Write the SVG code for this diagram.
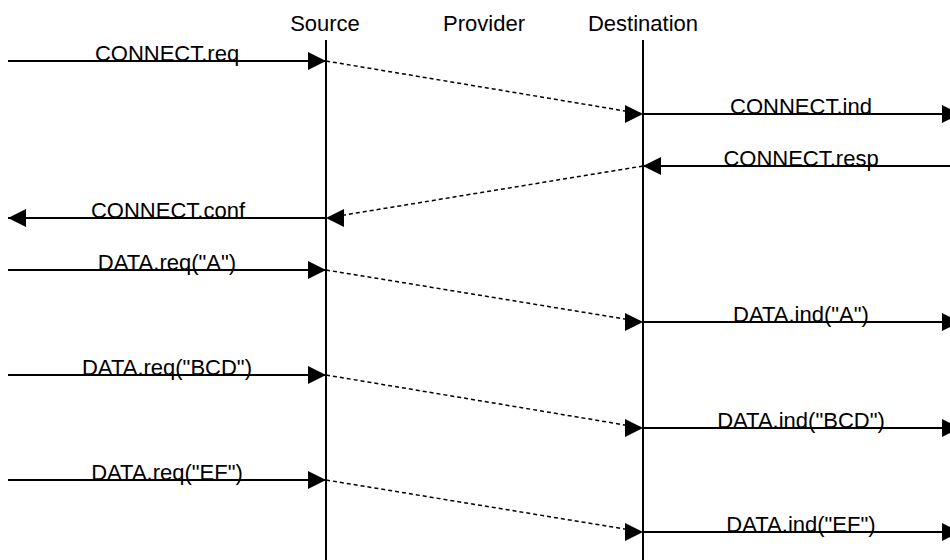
<svg xmlns="http://www.w3.org/2000/svg" width="950" height="560" viewBox="0 0 950 560">
<style>
text{font-family:"Liberation Sans",Arial,sans-serif;font-size:22px;fill:#000;text-anchor:middle}
.life{stroke:#000;stroke-width:2;fill:none}
.msg{stroke:#000;stroke-width:2;fill:none}
.dash{stroke:#000;stroke-width:1.5;fill:none;stroke-dasharray:4 3}
</style>
<defs>
<marker id="aAuto" viewBox="0 0 18 18" refX="18" refY="9" markerWidth="18" markerHeight="18" markerUnits="userSpaceOnUse" orient="auto"><path d="M0,0 L18,9 L0,18 Z" fill="#000"/></marker>
<marker id="aR" viewBox="0 0 18 18" refX="18" refY="9" markerWidth="18" markerHeight="18" markerUnits="userSpaceOnUse" orient="0"><path d="M0,0 L18,9 L0,18 Z" fill="#000"/></marker>
<marker id="aL" viewBox="0 0 18 18" refX="0" refY="9" markerWidth="18" markerHeight="18" markerUnits="userSpaceOnUse" orient="0"><path d="M18,0 L0,9 L18,18 Z" fill="#000"/></marker>
</defs>
<rect width="950" height="560" fill="#fff"/>
<g id="source">
<text x="325" y="31">Source</text>
<line class="life" x1="326" y1="40" x2="326" y2="560"/>
</g>
<g id="provider">
<text x="484" y="31">Provider</text>
</g>
<g id="destination">
<text x="643" y="31">Destination</text>
<line class="life" x1="643" y1="40" x2="643" y2="560"/>
</g>
<g id="connectors">
<line class="msg" x1="8" y1="61" x2="326" y2="61" marker-end="url(#aAuto)"/>
<text x="167" y="61">CONNECT.req</text>
<line class="dash" x1="326" y1="61" x2="643" y2="114" marker-end="url(#aR)"/>
<line class="msg" x1="643" y1="114" x2="960" y2="114" marker-end="url(#aAuto)"/>
<text x="801" y="114">CONNECT.ind</text>
<line class="msg" x1="960" y1="166" x2="643" y2="166" marker-end="url(#aAuto)"/>
<text x="801" y="166">CONNECT.resp</text>
<line class="dash" x1="643" y1="166" x2="326" y2="218" marker-end="url(#aL)"/>
<line class="msg" x1="326" y1="218" x2="8" y2="218" marker-end="url(#aAuto)"/>
<text x="168" y="218">CONNECT.conf</text>
<line class="msg" x1="8" y1="270" x2="326" y2="270" marker-end="url(#aAuto)"/>
<text x="167" y="270">DATA.req("A")</text>
<line class="dash" x1="326" y1="270" x2="643" y2="322" marker-end="url(#aR)"/>
<line class="msg" x1="643" y1="322" x2="960" y2="322" marker-end="url(#aAuto)"/>
<text x="801" y="322">DATA.ind("A")</text>
<line class="msg" x1="8" y1="375" x2="326" y2="375" marker-end="url(#aAuto)"/>
<text x="167" y="375">DATA.req("BCD")</text>
<line class="dash" x1="326" y1="375" x2="643" y2="428" marker-end="url(#aR)"/>
<line class="msg" x1="643" y1="428" x2="960" y2="428" marker-end="url(#aAuto)"/>
<text x="801" y="428">DATA.ind("BCD")</text>
<line class="msg" x1="8" y1="480" x2="326" y2="480" marker-end="url(#aAuto)"/>
<text x="167" y="480">DATA.req("EF")</text>
<line class="dash" x1="326" y1="480" x2="643" y2="532" marker-end="url(#aR)"/>
<line class="msg" x1="643" y1="532" x2="960" y2="532" marker-end="url(#aAuto)"/>
<text x="801" y="532">DATA.ind("EF")</text>
</g>
</svg>
